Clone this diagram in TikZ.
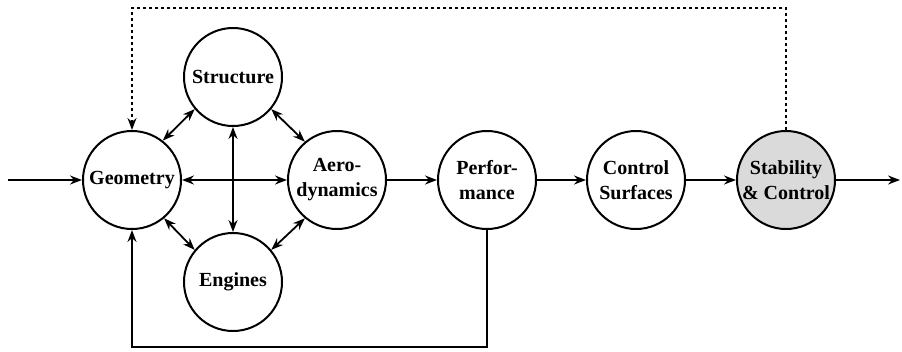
\documentclass[tikz,border=0pt]{standalone}
\usepackage{fontspec}
\setmainfont{Liberation Serif}
\usetikzlibrary{arrows.meta}
\begin{document}
\begin{tikzpicture}[x=1pt,y=-1pt,
  unit/.style={circle,draw,line width=2pt,minimum size=98pt,inner sep=0pt,
    align=center,font=\fontsize{20}{25}\selectfont\bfseries},
  shaded/.style={unit,fill={rgb,255:red,218;green,218;blue,218}},
  tip/.style={Stealth[length=12pt,width=9pt,inset=4pt]},
  flow/.style={line width=1.8pt,-{Stealth[length=12pt,width=9pt,inset=4pt]}},
  link/.style={line width=1.8pt,{Stealth[length=12pt,width=9pt,inset=4pt]}-{Stealth[length=12pt,width=9pt,inset=4pt]}},
  feedback/.style={flow,dash pattern=on 3pt off 3pt}]
\useasboundingbox (0,0) rectangle (902,351);

% discipline nodes
\node[unit] (geo)    at (132,180) {Geometry};
\node[unit] (struct) at (233,77)  {Structure};
\node[unit] (aero)   at (337,180) {Aero-\\dynamics};
\node[unit] (eng)    at (233,282) {Engines};
\node[unit] (perf)   at (487,180) {Perfor-\\mance};
\node[unit] (ctrl)   at (636,180) {Control\\Surfaces};
\node[shaded] (stab) at (786,180) {Stability\\\& Control};

% free ends of the input and output arrows
\coordinate (in)  at (8,180);
\coordinate (out) at (900,180);

% input and main flow
\draw[flow] (in) -- (geo);
\draw[flow] (aero) -- (perf);
\draw[flow] (perf) -- (ctrl);
\draw[flow] (ctrl) -- (stab);
\draw[flow] (stab) -- (out);

% coupling between the core disciplines
\draw[link] (geo.east) -- (aero.west);
\draw[link] (struct.south) -- (eng.north);
\draw[link] (geo.52) -- (struct.-140);
\draw[link] (struct.-40) -- (aero.130);
\draw[link] (geo.-50) -- (eng.140);
\draw[link] (eng.40) -- (aero.-130);

% feedback loops
\draw[flow] (perf.south) |- (132,347) -- (geo.south);
\draw[feedback] (stab.north) |- (132,8) -- (geo.north);
\end{tikzpicture}
\end{document}
